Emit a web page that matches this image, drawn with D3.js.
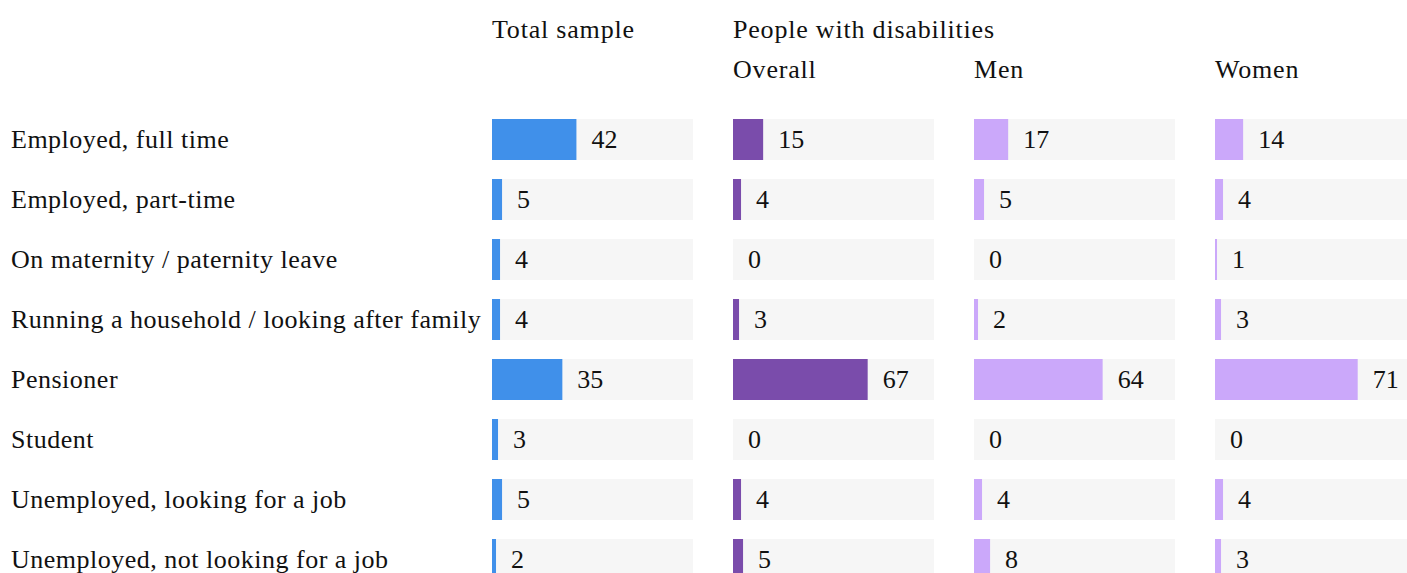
<!DOCTYPE html>
<html><head><meta charset="utf-8">
<script src="https://cdn.jsdelivr.net/npm/d3@7"></script>
<style>
html,body{margin:0;padding:0;background:#fff;overflow:hidden;}
text{font-family:"Liberation Serif","DejaVu Serif",serif;fill:#111;}
</style></head><body>
<svg id="c" width="1407" height="573"></svg>
<script>
const categories = ["Employed, full time","Employed, part-time","On maternity / paternity leave","Running a household / looking after family","Pensioner","Student","Unemployed, looking for a job","Unemployed, not looking for a job"];
const seriesNames = ["Total sample","Overall","Men","Women"];
const totalSample = [42,5,4,4,35,3,5,2];
const pwdOverall = [15,4,0,3,67,0,4,5];
const pwdMen = [17,5,0,2,64,0,4,8];
const pwdWomen = [14,4,1,3,71,0,4,3];
const groupTitle = "People with disabilities";
const seriesValues = [totalSample,pwdOverall,pwdMen,pwdWomen];
const colors = ["#4090ea","#7a4cab","#cba8fa","#cba8fa"];

const svg = d3.select("#c");
const colX = d3.scalePoint().domain(seriesNames).range([492,1215]);
const colW = 201;
const x = d3.scaleLinear().domain([0,100]).range([0,colW]);
const step = 60, bh = 41;
const yScale = d3.scalePoint().domain(categories).range([119,119+step*(categories.length-1)]);
const yPos = c => yScale(c);

const fs = 26;
// row labels
svg.append("g").selectAll("text").data(categories).join("text")
  .attr("x",11).attr("y",c=>yPos(c)+bh/2).attr("dy","0.33em")
  .style("font-size",fs+"px").style("letter-spacing","0.5px").text(d=>d);

// headers
const hdr = (t,xx,yy)=>svg.append("text").attr("x",xx).attr("y",yy).style("font-size",fs+"px").style("letter-spacing","0.8px").text(t);
hdr("Total sample",colX("Total sample"),38);
hdr(groupTitle,colX("Overall"),38);
["Overall","Men","Women"].forEach(n=>hdr(n,colX(n),78));

seriesNames.forEach((s,i)=>{
  const g = svg.append("g").attr("transform",`translate(${colX(s)},0)`);
  const vals = seriesValues[i];
  const data = categories.map((c,j)=>({c,v:vals[j]}));
  g.selectAll("rect.bg").data(data).join("rect").attr("class","bg")
    .attr("x",0).attr("y",d=>yPos(d.c)).attr("width",colW).attr("height",bh).attr("fill","#f6f6f6");
  g.selectAll("rect.bar").data(data).join("rect").attr("class","bar")
    .attr("x",0).attr("y",d=>yPos(d.c)).attr("width",d=>x(d.v)).attr("height",bh).attr("fill",colors[i]);
  g.selectAll("text").data(data).join("text")
    .attr("x",d=>x(d.v)+15).attr("y",d=>yPos(d.c)+bh/2).attr("dy","0.33em")
    .style("font-size",fs+"px").text(d=>d.v);
});
</script></body></html>
